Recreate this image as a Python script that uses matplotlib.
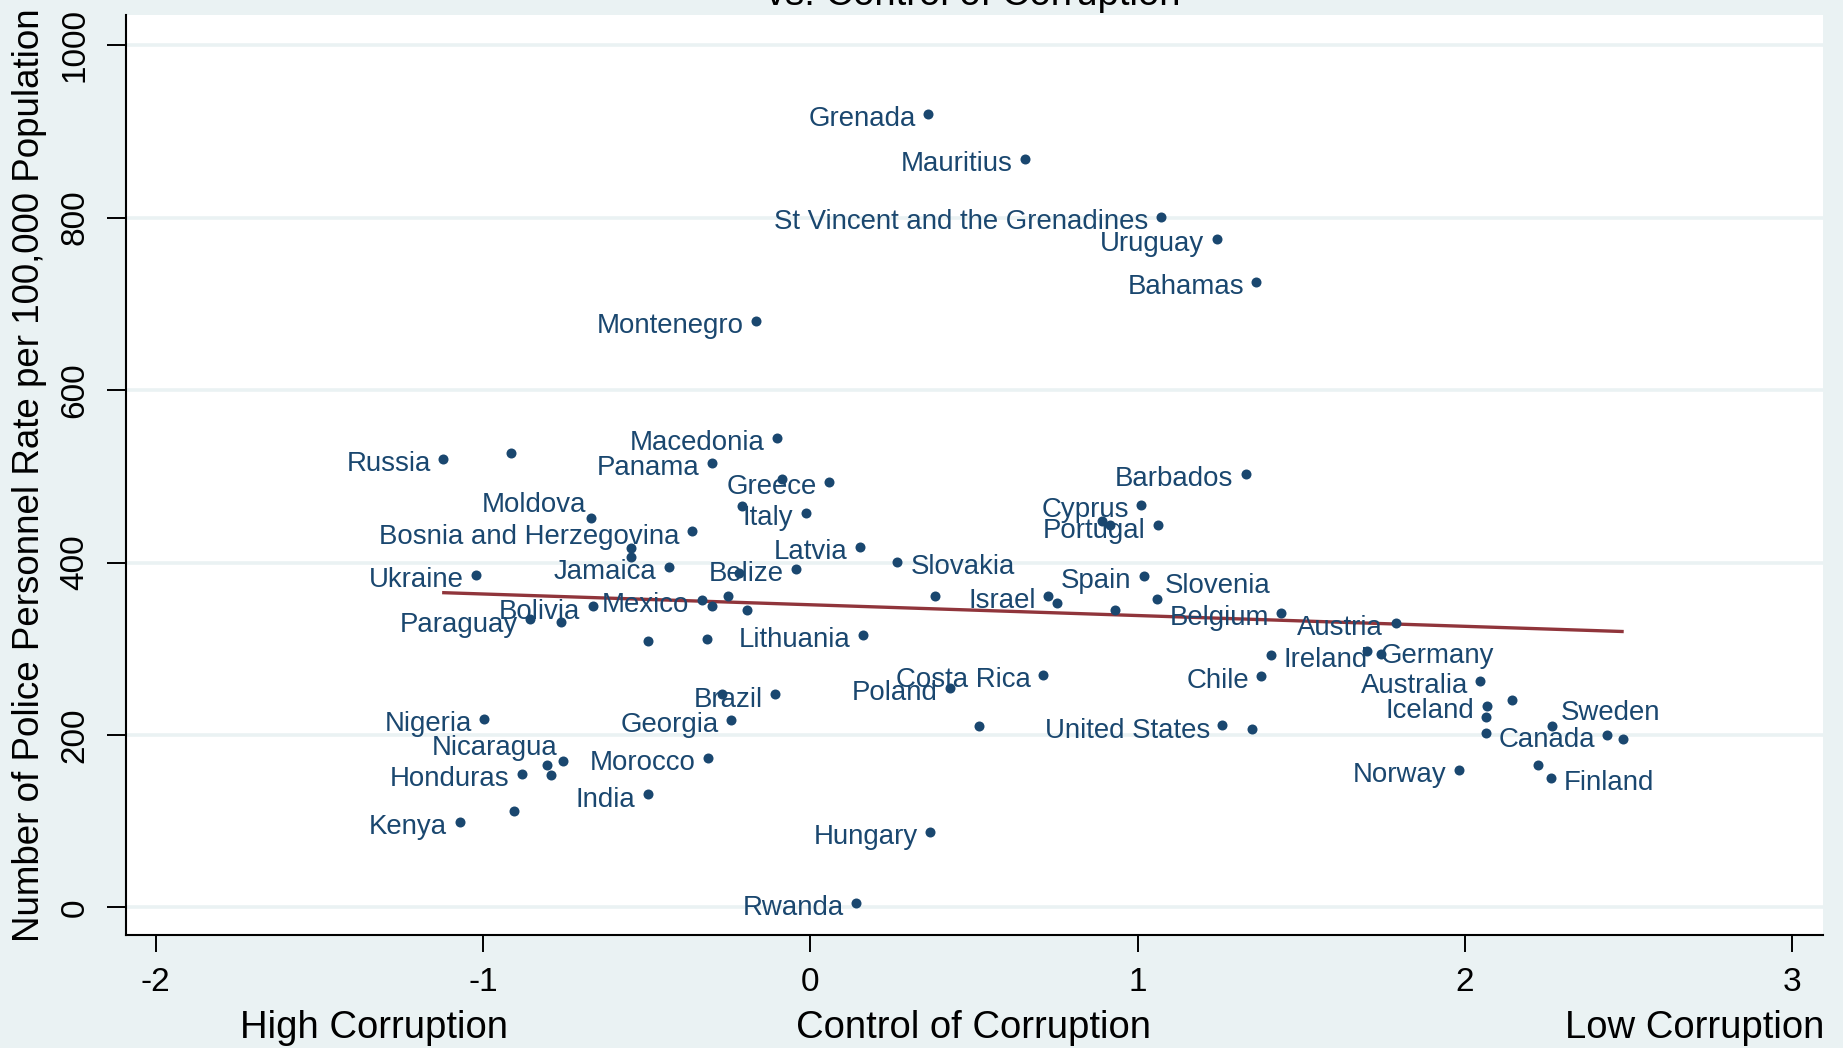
import matplotlib
matplotlib.use("Agg")
import matplotlib.pyplot as plt

plt.rcParams["font.family"] = ["Liberation Sans", "DejaVu Sans"]
plt.rcParams["axes.unicode_minus"] = False

NAVY = "#1a476f"
MAROON = "#90353b"
BG = "#eaf2f3"

# control of corruption index (x), police personnel per 100,000 (y); "" = no label
countries = [
    "Grenada", "Mauritius", "St Vincent and the Grenadines", "Uruguay", "Bahamas",
    "Montenegro", "Russia", "", "Macedonia", "Panama", "", "Greece", "Moldova", "",
    "Italy", "Bosnia and Herzegovina", "", "", "Latvia", "Slovakia", "Ukraine",
    "Jamaica", "", "Belize", "", "Mexico", "", "", "", "Bolivia", "Paraguay", "", "",
    "", "Lithuania", "Barbados", "Cyprus", "", "", "Portugal", "Spain", "Israel", "",
    "", "Slovenia", "Belgium", "Austria", "Ireland", "Germany", "", "Costa Rica",
    "Poland", "Chile", "Australia", "Iceland", "", "", "Sweden", "", "Canada", "",
    "United States", "", "", "Norway", "", "Finland", "", "Brazil", "Nigeria",
    "Georgia", "Nicaragua", "", "", "Honduras", "Morocco", "India", "", "Kenya",
    "Hungary", "Rwanda",
]
control = [
    0.360, 0.655, 1.072, 1.241, 1.363,
    -0.165, -1.122, -0.914, -0.101, -0.302, -0.086, 0.058, -0.669, -0.209,
    -0.014, -0.363, -0.547, -0.547, 0.151, 0.266, -1.022,
    -0.432, -0.219, -0.043, 0.381, -0.331, -0.252, -0.302, -0.194, -0.665, -0.856, -0.763, -0.496,
    -0.317, 0.162, 1.331, 1.011, 0.892, 0.914, 1.061, 1.018, 0.727, 0.755,
    0.932, 1.058, 1.439, 1.788, 1.406, 1.701, 1.745, 0.712,
    0.428, 1.378, 2.047, 2.068, 2.065, 2.144, 2.266, 2.065, 2.435, 2.482,
    1.259, 1.349, 0.514, 1.982, 2.223, 2.263, -0.270, -0.108, -0.996,
    -0.241, -0.755, -0.806, -0.791, -0.881, -0.313, -0.496, -0.906, -1.072,
    0.367, 0.140,
]
police = [
    920, 868, 801, 775, 725,
    680, 520, 527, 544, 515, 497, 493, 452, 465,
    458, 436, 417, 406, 418, 401, 386,
    395, 388, 392, 361, 357, 361, 349, 345, 349, 334, 331, 309,
    311, 316, 503, 467, 448, 444, 443, 384, 361, 353,
    345, 358, 341, 330, 293, 297, 294, 270,
    255, 268, 263, 234, 221, 240, 210, 202, 200, 195,
    211, 207, 210, 159, 165, 150, 248, 247, 219,
    217, 170, 165, 153, 155, 173, 131, 112, 99,
    87, 5,
]

# linear fit line, endpoints
fit_x = [-1.12, 2.48]
fit_y = [365, 320]

x_ticks = [-2, -1, 0, 1, 2, 3]
y_ticks = [0, 200, 400, 600, 800, 1000]

# label placement (Stata clock positions), default 9 = left of marker
label_pos = {"Slovakia": 3, "Ireland": 3, "Germany": 3, "Finland": 3,
             "Slovenia": 2, "Sweden": 2, "Moldova": 10, "Nicaragua": 10}
offsets = {9: (-9.0, -1.5, "right"), 3: (9.5, -1.5, "left"),
           2: (6.0, 11.5, "left"), 10: (-4.0, 11.5, "right")}

W, H = 1843, 1048
fig = plt.figure(figsize=(W / 100, H / 100), dpi=100, facecolor=BG)
ax = fig.add_axes([126 / W, (H - 935) / H, (1823 - 126) / W, (935 - 15) / H])
ax.set_facecolor("white")

ax.set_xlim(-2.091, 3.094)
ax.set_ylim(-32, 1035)

for g in y_ticks:
    ax.axhline(g, color=BG, lw=2.6, zorder=0)

ax.scatter(control, police, s=52, color=NAVY, zorder=3, linewidths=0)
ax.plot(fit_x, fit_y, color=MAROON, lw=2.4, zorder=2)

for name, x, y in zip(countries, control, police):
    if not name:
        continue
    dx, dy, ha = offsets[label_pos.get(name, 9)]
    ax.annotate(name, (x, y), xytext=(dx, dy), textcoords="offset points",
                ha=ha, va="center_baseline", fontsize=19.9, color=NAVY, zorder=4)

for s in ["top", "right"]:
    ax.spines[s].set_visible(False)
for s in ["left", "bottom"]:
    ax.spines[s].set_linewidth(1.5)
    ax.spines[s].set_color("black")

ax.set_xticks(x_ticks)
ax.set_yticks(y_ticks)
ax.set_yticklabels([str(v) for v in y_ticks], rotation=90, va="center")
ax.tick_params(axis="x", length=12, width=1.4, pad=11, labelsize=24)
ax.tick_params(axis="y", length=13.5, width=1.4, pad=12, labelsize=24)

fig.text(30 / W, 1 - 475 / H, "Number of Police Personnel Rate per 100,000 Population",
         rotation=90, ha="center", va="center", fontsize=26.5)
fig.text(973 / W, 1 - 5 / H, "vs. Control of Corruption",
         ha="center", va="baseline", fontsize=27.5)

base = (H - 1038) / H
fig.text(240 / W, base, "High Corruption", ha="left", va="baseline", fontsize=27.5)
fig.text(973 / W, base, "Control of Corruption", ha="center", va="baseline", fontsize=27.5)
fig.text(1824 / W, base, "Low Corruption", ha="right", va="baseline", fontsize=27.5)

fig.savefig("out.png", dpi=100, facecolor=BG)
